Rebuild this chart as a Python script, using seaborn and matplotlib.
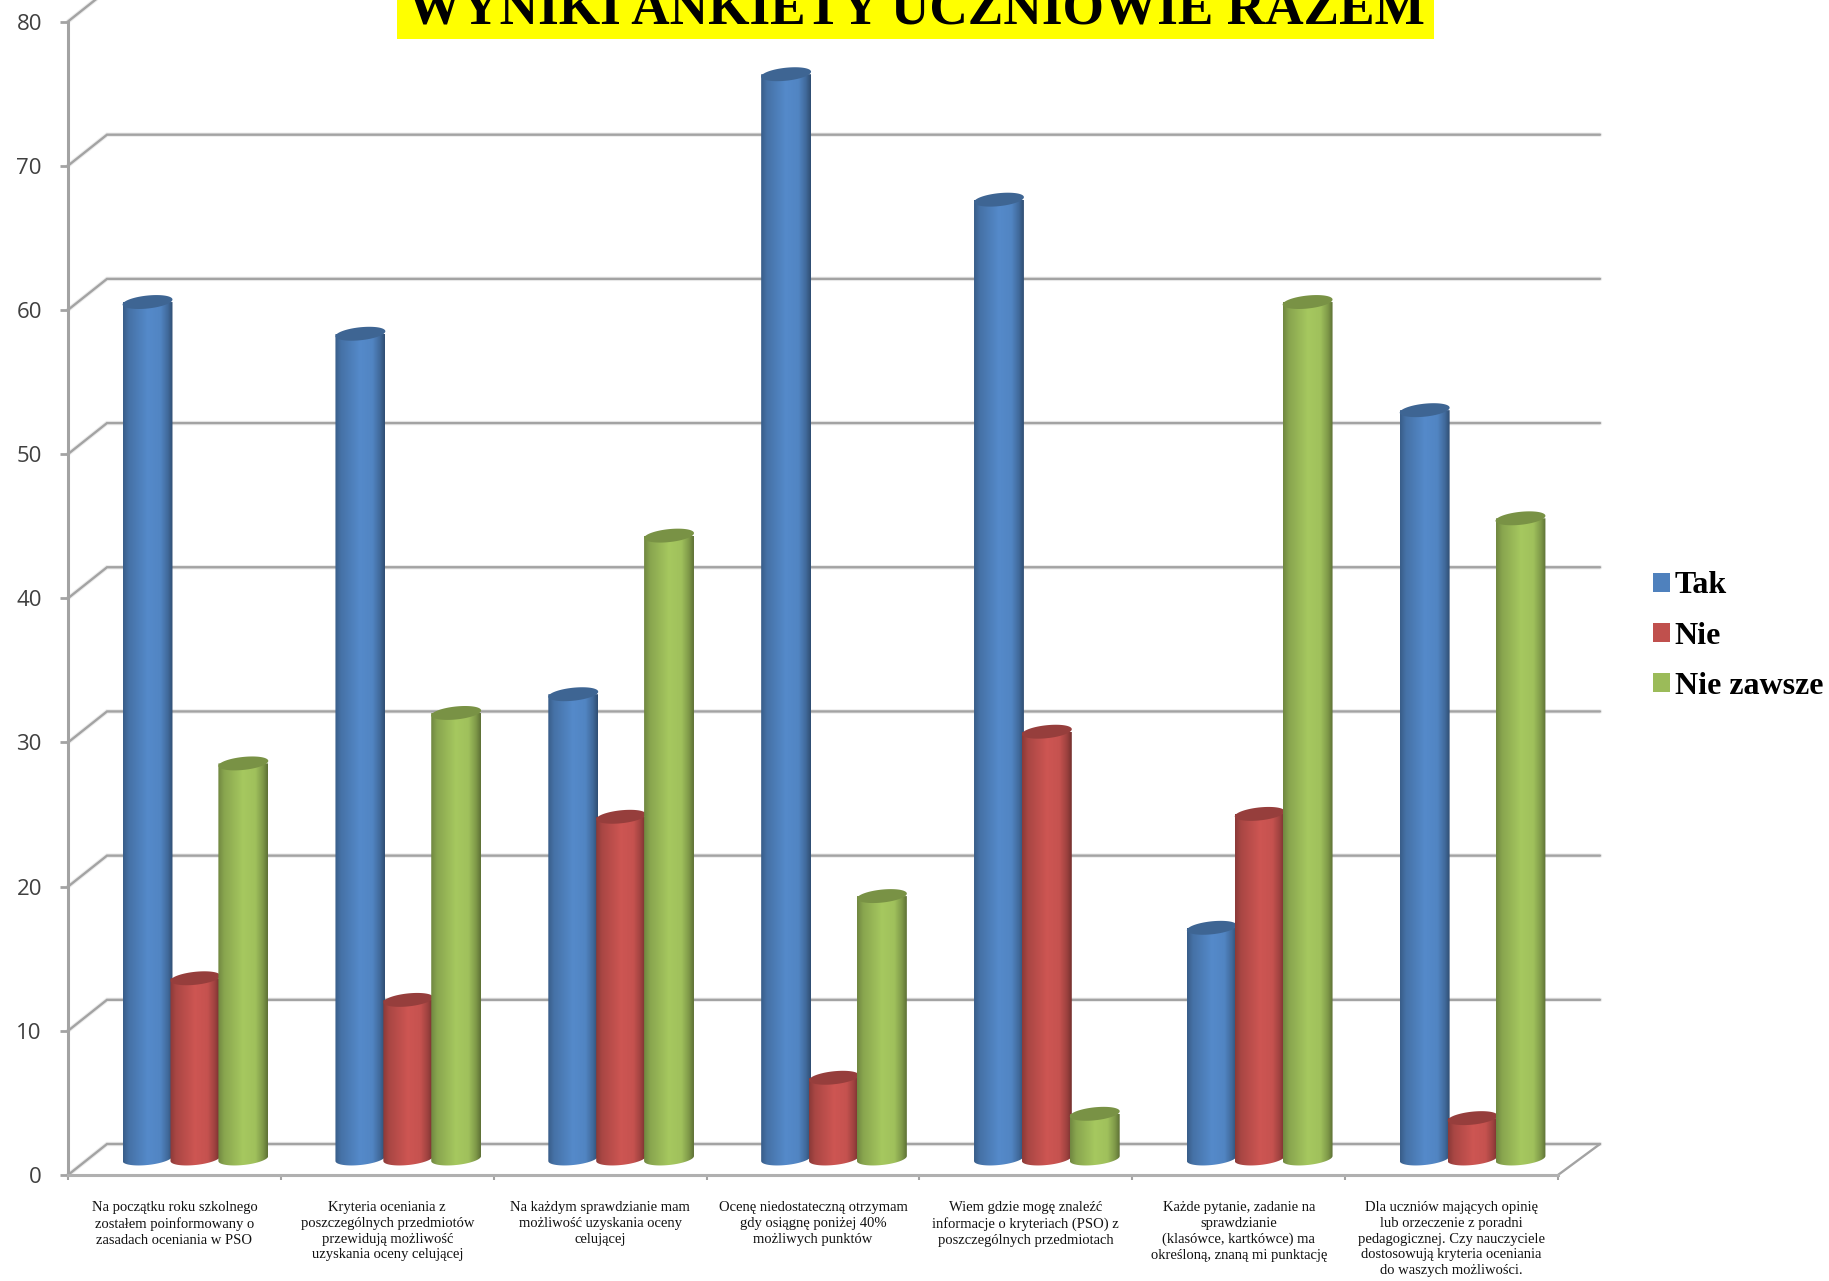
import matplotlib
matplotlib.use("Agg")
import matplotlib.pyplot as plt
from matplotlib.colors import LinearSegmentedColormap, to_rgb
from matplotlib.patches import Rectangle
from matplotlib.path import Path
import numpy as np
import pandas as pd
import seaborn as sb

# values
questions = [
    "Na początku roku szkolnego\nzostałem poinformowany o\nzasadach oceniania w PSO",
    "Kryteria oceniania z\nposzczególnych przedmiotów\nprzewidują możliwość\nuzyskania oceny celującej",
    "Na każdym sprawdzianie mam\nmożliwość uzyskania oceny\ncelującej",
    "Ocenę niedostateczną otrzymam\ngdy osiągnę poniżej 40%\nmożliwych punktów",
    "Wiem gdzie mogę znaleźć\ninformacje o kryteriach (PSO) z\nposzczególnych przedmiotach",
    "Każde pytanie, zadanie na\nsprawdzianie\n(klasówce, kartkówce) ma\nokreśloną, znaną mi punktację",
    "Dla uczniów mających opinię\nlub orzeczenie z poradni\npedagogicznej. Czy nauczyciele\ndostosowują kryteria oceniania\ndo waszych możliwości.",
]
tak = [59.4, 57.2, 32.2, 75.2, 66.5, 16.0, 51.9]
nie = [12.5, 11.0, 23.7, 5.6, 29.6, 23.9, 2.8]
nie_zawsze = [27.4, 30.9, 43.2, 18.2, 3.1, 59.4, 44.4]
series_names = ["Tak", "Nie", "Nie zawsze"]
series_colors = ["#4F81BD", "#C0504D", "#9BBB59"]
y_ticks = [0, 10, 20, 30, 40, 50, 60, 70, 80]
title_text = "WYNIKI ANKIETY UCZNIOWIE RAZEM"

df = pd.DataFrame({
    "pytanie": questions * 3,
    "seria": [s for s in series_names for _ in questions],
    "procent": tak + nie + nie_zawsze,
})

sb.set_theme(style="white")
plt.rcParams["font.family"] = ["Liberation Serif", "DejaVu Serif"]

W, H = 1829, 1281
fig = plt.figure(figsize=(W / 100, H / 100), dpi=100, facecolor="white")

# front plane of the fake 3d box, everything in pixels of the target
left, right, top, bottom = 68, 1558, 21.5, 1175
pos = [left / W, (H - bottom) / H, (right - left) / W, (bottom - top) / H]
ax = fig.add_axes(pos)
# bars stand in the middle of the floor, so their axes are shifted a bit
shift_x, shift_y = 21, 16.5
ax_bars = fig.add_axes([pos[0] + shift_x / W, pos[1] + shift_y / H, pos[2], pos[3]])

gray = "#a3a3a3"
ax.set_xlim(-0.5, 6.5)
ax.set_ylim(0, 80)
ax.patch.set_visible(False)
sb.despine(ax=ax)
for side in ["left", "bottom"]:
    ax.spines[side].set_color(gray)
    ax.spines[side].set_linewidth(2.2)
ax.spines["bottom"].set_color("#b0b0b0")

ax.set_yticks(y_ticks)
ax.set_yticklabels([str(t) for t in y_ticks], family="Open Sans", fontsize=16, color="#404040")
ax.tick_params(axis="y", left=True, length=5.8, width=2, color=gray, pad=13)
ax.set_xticks(range(7))
ax.set_xticklabels(questions, fontsize=10.5, color="#111111", linespacing=1.27)
ax.tick_params(axis="x", bottom=False, pad=13)
ax.set_xticks(np.arange(-0.5, 7), minor=True)
ax.tick_params(axis="x", which="minor", bottom=True, length=3.5, width=1.5, color=gray)

# walls and floor
dx = 39 / (right - left) * 7
dy = 31 / (bottom - top) * 80
x_end = (1600 - left) / (right - left) * 7 - 0.5
for t in y_ticks:
    for lw, alpha in [(3.2, 0.2), (1.7, 1)]:
        ax.plot([-0.5, -0.5 + dx, x_end], [t, t + dy, t + dy], color=gray, lw=lw,
                alpha=alpha, clip_on=False, zorder=1, solid_joinstyle="miter")
ax.plot([x_end, 6.5], [dy, 0], color=gray, lw=1.7, clip_on=False, zorder=1)

# the bars
sb.barplot(data=df, x="pytanie", y="procent", hue="seria", hue_order=series_names,
           palette=series_colors, width=0.675, gap=0, saturation=1, errorbar=None,
           ax=ax_bars, legend=False)
ax_bars.set_xlim(-0.5, 6.5)
ax_bars.set_ylim(0, 80)
ax_bars.axis("off")

b = 6.5 / (bottom - top) * 80    # half height of the cylinder ends
k = 2.5 / (bottom - top) * 80    # small tilt of the ends
over = 1 / (right - left) * 7    # neighbours overlap by a pixel or so
t_top = np.linspace(0, 2 * np.pi, 80)
t_low = np.linspace(np.pi, 2 * np.pi, 40)


def shade(color, f):
    return tuple(min(1, c * f) for c in to_rgb(color))


ramp = np.linspace(0, 1, 256)[None, :]
for j, (cont, col) in enumerate(zip(ax_bars.containers, series_colors)):
    cmap = LinearSegmentedColormap.from_list("cyl", [
        (0, shade(col, 0.72)), (0.12, shade(col, 0.88)), (0.5, shade(col, 1.07)),
        (0.75, shade(col, 1.03)), (0.9, shade(col, 0.82)), (1, shade(col, 0.6))])
    for bar in cont:
        x0, w, v = bar.get_x(), bar.get_width(), bar.get_height()
        bar.set_visible(False)
        cx, a = x0 + w / 2, w / 2 + over
        # body: straight sides, round bottom
        xs = cx + a * np.cos(t_low)
        ys = b * np.sin(t_low) + k * np.cos(t_low)
        verts = np.vstack([np.column_stack([xs, ys]), [cx + a, v], [cx - a, v], [xs[0], ys[0]]])
        im = ax_bars.imshow(ramp, cmap=cmap, extent=(cx - a, cx + a, -2 * b, v), aspect="auto",
                            interpolation="bilinear", zorder=3 + j)
        im.set_clip_path(Path(verts), transform=ax_bars.transData)
        # top of the cylinder
        ax_bars.fill(cx + a * np.cos(t_top), v + b * np.sin(t_top) + k * np.cos(t_top),
                     color=shade(col, 0.78), lw=0, zorder=3.5 + j, clip_on=False)
ax_bars.set_xlim(-0.5, 6.5)
ax_bars.set_ylim(-1.5, 80)
ax_bars.set_position([pos[0] + shift_x / W, pos[1] + (shift_y - 1.5 * (bottom - top) / 80) / H,
                      pos[2], pos[3] * 81.5 / 80])

# title, cut off by the top of the picture like in the original
fig.patches.append(Rectangle((397 / W, 1 - 38.5 / H), 1037 / W, 38.5 / H, transform=fig.transFigure,
                             facecolor="#ffff00", edgecolor="none"))
fig.text(916 / W, 1 - 24 / H, title_text, ha="center", va="baseline", fontsize=38.3,
         fontweight="bold", color="black")

# legend
handles = [Rectangle((0, 0), 1, 1, facecolor=c, edgecolor="none") for c in series_colors]
fig.legend(handles, series_names, loc="center left", bbox_to_anchor=(1647 / W, 1 - 636 / H),
           frameon=False, handlelength=0.53, handleheight=0.53, handletextpad=0.14,
           labelspacing=0.66, borderpad=0.2, borderaxespad=0, labelcolor="black",
           prop={"family": "Liberation Serif", "weight": "bold", "size": 23})

fig.savefig("out.png", dpi=100)
